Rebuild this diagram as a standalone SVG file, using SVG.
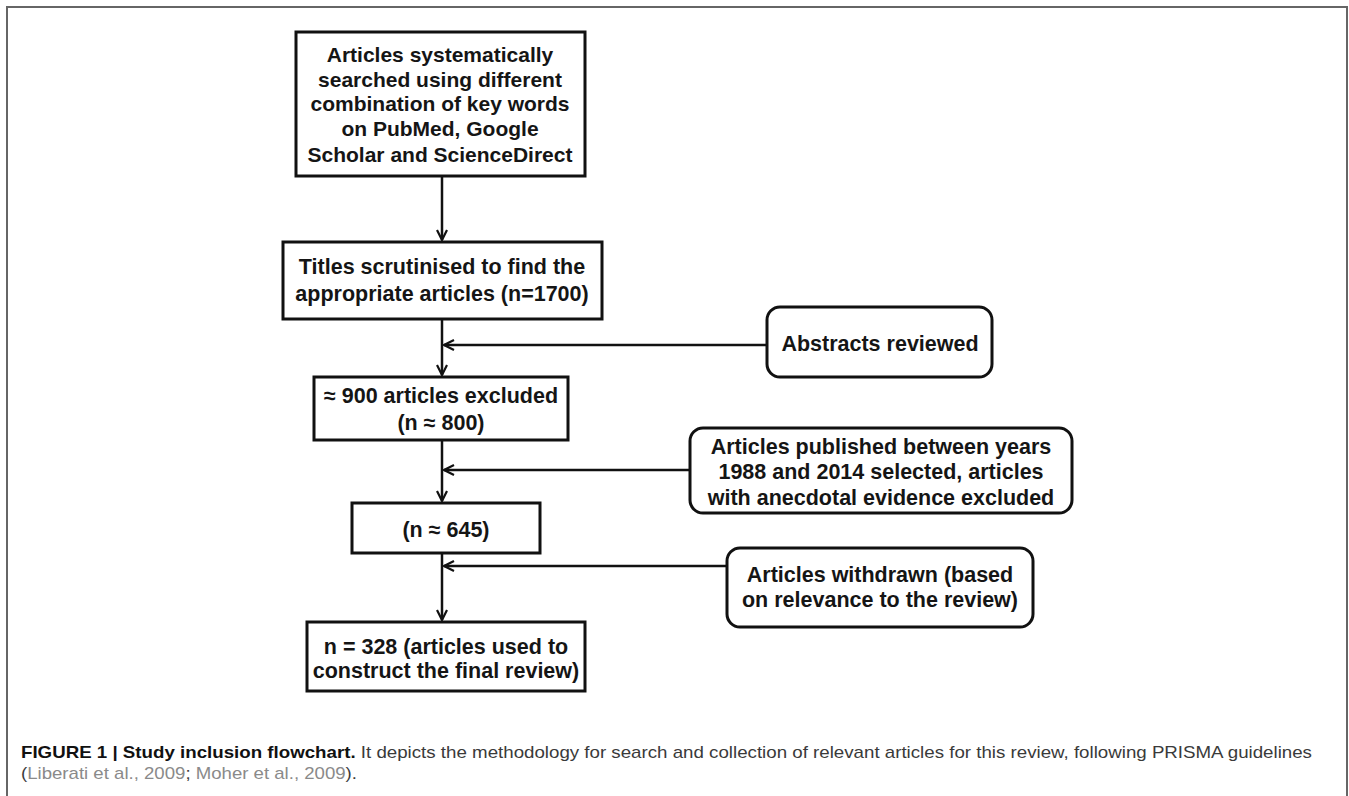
<svg xmlns="http://www.w3.org/2000/svg" width="1349" height="796" viewBox="0 0 1349 796">
<defs>
<style>
.box{fill:#fff;stroke:#111;stroke-width:3}
.t{font-family:"Liberation Sans",Arial,sans-serif;font-weight:bold;font-size:21px;fill:#151515;text-anchor:middle}
.tm{font-family:"Liberation Sans",Arial,sans-serif;font-weight:bold;font-size:21.5px;fill:#151515;text-anchor:middle}
.ln{stroke:#111;stroke-width:2.5;fill:none}
.cap{font-family:"Liberation Sans",Arial,sans-serif;font-size:17px;fill:#3a3a3a}
</style>
<marker id="ah" viewBox="0 0 12 12" refX="11" refY="6" markerWidth="12" markerHeight="12" markerUnits="userSpaceOnUse" orient="auto">
<path d="M1,1 L11,6 L1,11" fill="none" stroke="#111" stroke-width="2.2"/>
</marker>
</defs>
<rect width="1349" height="796" fill="#fff"/>
<path d="M7,800 V7 H1347 V800" fill="none" stroke="#666" stroke-width="2"/>

<g id="connectors">
<line class="ln" x1="442" y1="176" x2="442" y2="240" marker-end="url(#ah)"/>
<line class="ln" x1="442" y1="319" x2="442" y2="375" marker-end="url(#ah)"/>
<line class="ln" x1="767" y1="345" x2="444" y2="345" marker-end="url(#ah)"/>
<line class="ln" x1="442" y1="440" x2="442" y2="501" marker-end="url(#ah)"/>
<line class="ln" x1="690" y1="470" x2="444" y2="470" marker-end="url(#ah)"/>
<line class="ln" x1="442" y1="553" x2="442" y2="620" marker-end="url(#ah)"/>
<line class="ln" x1="727" y1="566" x2="444" y2="566" marker-end="url(#ah)"/>
</g>

<g id="n1">
<rect class="box" x="296" y="32" width="289" height="144"/>
<text class="t" x="440" y="62">Articles systematically</text>
<text class="t" x="440" y="87">searched using different</text>
<text class="t" x="440" y="111">combination of key words</text>
<text class="t" x="440" y="136">on PubMed, Google</text>
<text class="t" x="440" y="162">Scholar and ScienceDirect</text>
</g>

<g id="n2">
<rect class="box" x="283" y="242" width="319" height="77"/>
<text class="tm" x="442" y="274">Titles scrutinised to find the</text>
<text class="tm" x="442" y="301">appropriate articles (n=1700)</text>
</g>

<g id="n3">
<rect class="box" x="314" y="377" width="254" height="63"/>
<text class="tm" x="441" y="403">≈ 900 articles excluded</text>
<text class="tm" x="441" y="430">(n ≈ 800)</text>
</g>

<g id="n4">
<rect class="box" x="352" y="503" width="188" height="50"/>
<text class="tm" x="446" y="537">(n ≈ 645)</text>
</g>

<g id="n5">
<rect class="box" x="307" y="622" width="278" height="69"/>
<text class="tm" x="446" y="654">n = 328 (articles used to</text>
<text class="tm" x="446" y="678">construct the final review)</text>
</g>

<g id="s1">
<rect class="box" x="767" y="307" width="225" height="70" rx="13"/>
<text class="tm" x="880" y="351">Abstracts reviewed</text>
</g>

<g id="s2">
<rect class="box" x="690" y="428" width="382" height="85" rx="13"/>
<text class="tm" x="881" y="454">Articles published between years</text>
<text class="tm" x="881" y="479">1988 and 2014 selected, articles</text>
<text class="tm" x="881" y="505">with anecdotal evidence excluded</text>
</g>

<g id="s3">
<rect class="box" x="727" y="548" width="306" height="79" rx="13"/>
<text class="tm" x="880" y="582">Articles withdrawn (based</text>
<text class="tm" x="880" y="607">on relevance to the review)</text>
</g>

<g id="caption">
<text class="cap" x="21" y="758" textLength="1291" lengthAdjust="spacingAndGlyphs"><tspan font-weight="bold" fill="#111">FIGURE 1 | Study inclusion flowchart.</tspan> It depicts the methodology for search and collection of relevant articles for this review, following PRISMA guidelines</text>
<text class="cap" x="21" y="779" textLength="336" lengthAdjust="spacingAndGlyphs">(<tspan fill="#8a8a8a">Liberati et al., 2009</tspan>; <tspan fill="#8a8a8a">Moher et al., 2009</tspan>).</text>
</g>
</svg>
